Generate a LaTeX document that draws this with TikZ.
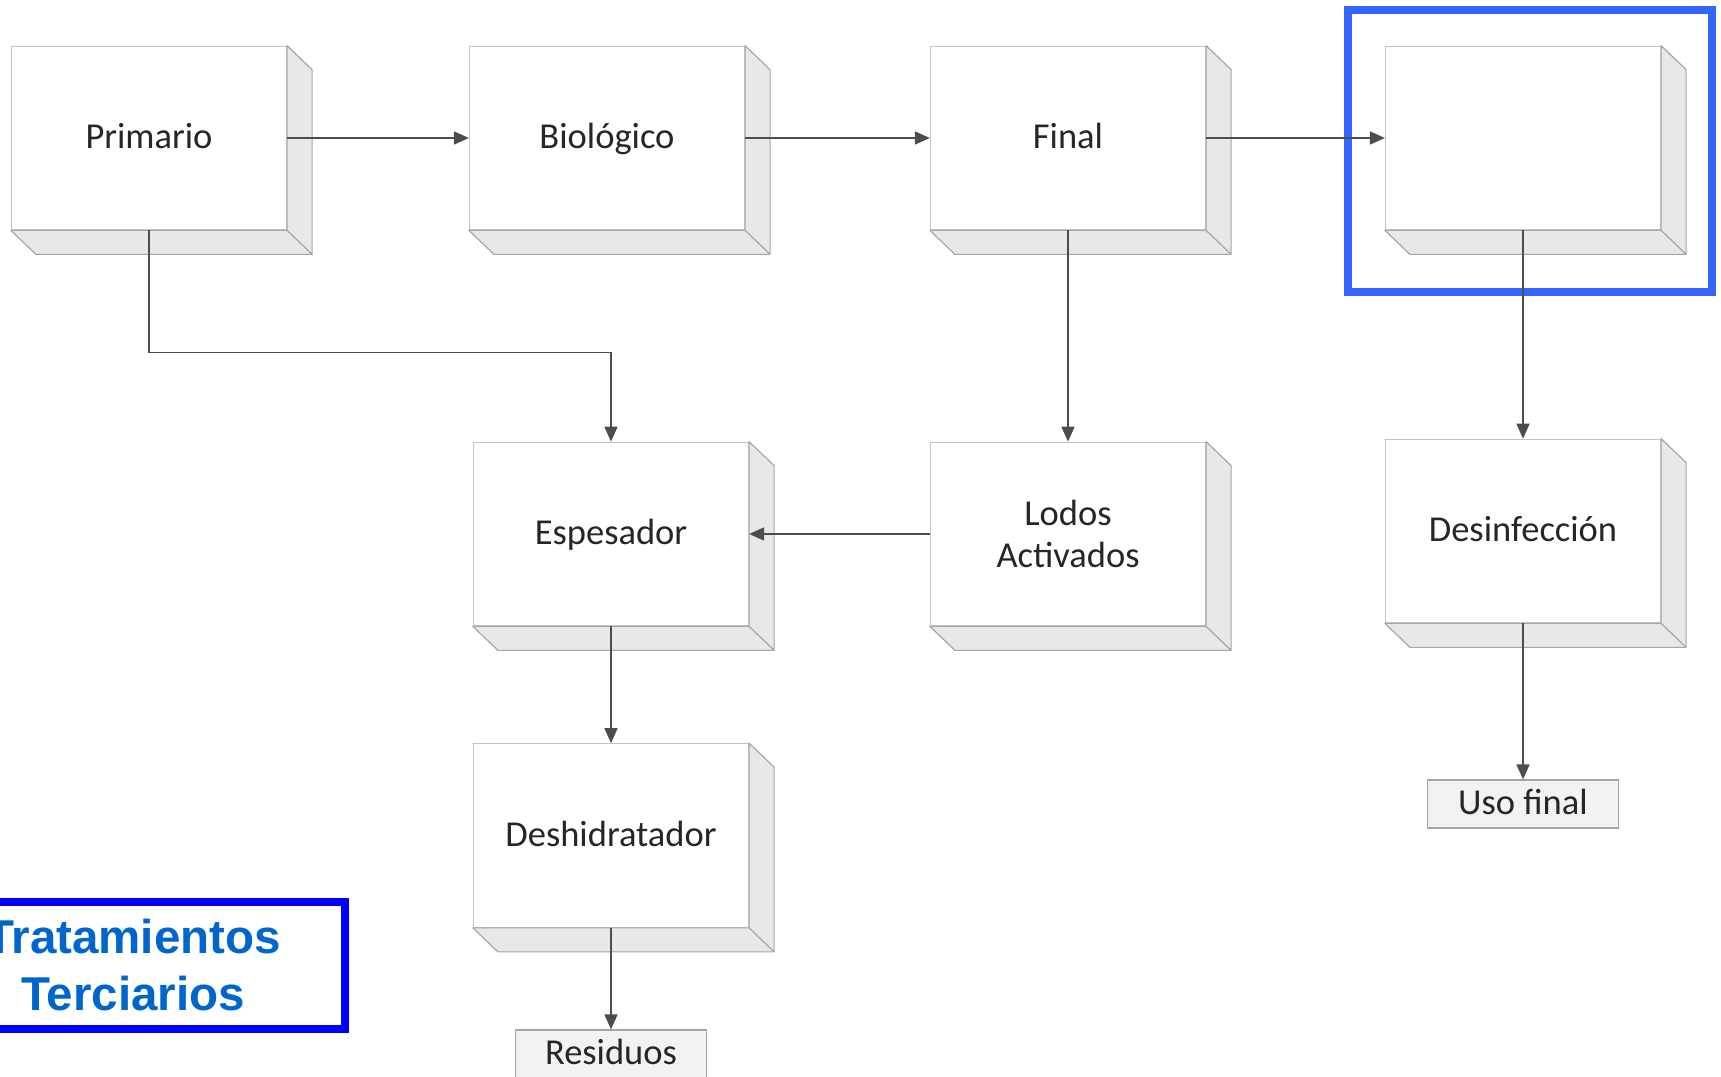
\documentclass[tikz,border=0pt]{standalone}
\usepackage{fontspec}
\setmainfont{Carlito}
\newfontfamily\arialfont{Liberation Sans}
\usetikzlibrary{arrows.meta}
\definecolor{boxedge}{HTML}{C4C4C4}
\definecolor{faceedge}{HTML}{A6A6A6}
\definecolor{facefill}{HTML}{E8E8E8}
\definecolor{flowline}{HTML}{4D4D4D}
\definecolor{markblue}{HTML}{3366FF}
\definecolor{titleblue}{HTML}{0066CC}
\tikzset{
	stage/.style={draw=boxedge, line width=1.2pt, fill=white, minimum width=275pt, minimum height=183.5pt,
		inner sep=0pt, align=center, text=black!85, font=\fontsize{36.5}{42}\selectfont},
	oneline/.style={text height=29pt, text depth=7.5pt},
	endbox/.style={draw=faceedge, line width=1.2pt, fill=black!5, minimum width=191pt, minimum height=48pt,
		inner sep=0pt, text=black!85, font=\fontsize{36.5}{42}\selectfont, oneline},
	face/.style={fill=facefill, draw=faceedge, line width=1.2pt, line join=round},
	flow/.style={draw=flowline, line width=1.6pt, -{Triangle[length=15pt,width=13pt]}}
}
\begin{document}
\begin{tikzpicture}[x=1pt, y=-1pt]
	\useasboundingbox (0,0) rectangle (1721,1076);
	
	% top row
	\node[stage, oneline] (prim) at (149,138) {Primario};
	\node[stage, oneline] (bio) at (607,138) {Biológico};
	\node[stage, oneline] (final) at (1068,138) {Final};
	\node[stage] (blank) at (1523,138) {};
	
	% middle row
	\node[stage, oneline] (esp) at (611,534) {Espesador};
	\node[stage] (lodos) at (1068,534) {Lodos\\Activados};
	\node[stage, oneline] (desinf) at (1523,531) {Desinfección};
	
	% bottom
	\node[stage, oneline] (desh) at (611,835.5) {Deshidratador};
	\node[endbox] (res) at (611,1054) {Residuos};
	\node[endbox] (uso) at (1523,804) {Uso final};
	
	% side and bottom faces
	\foreach \n in {prim,bio,final,blank,esp,lodos,desinf,desh}
	\filldraw[face] (\n.south east) -- (\n.north east) -- ++(25,24) |- ([shift={(25,24)}]\n.south west) -- (\n.south west) -- cycle
		(\n.south east) -- ++(25,24);
	
	% marks
	\draw[markblue, line width=8pt] (1348,10) rectangle (1712,292);
	\node[draw=blue, line width=8pt, minimum width=424pt, minimum height=127pt, inner sep=0pt, align=center,
		text=titleblue, font=\arialfont\bfseries\fontsize{47.5}{57}\selectfont] (title) at (133,965.5) {Tratamientos\\Terciarios};
	
	% flows
	\draw[flow] (prim.east) -- (bio.west);
	\draw[flow] (bio.east) -- (final.west);
	\draw[flow] (final.east) -- (blank.west);
	\draw[flow] (prim.south) -- ++(0,122) -| (esp.north);
	\draw[flow] (final.south) -- (lodos.north);
	\draw[flow] (blank.south) -- (desinf.north);
	\draw[flow] (lodos.west) -- (esp.east);
	\draw[flow] (esp.south) -- (desh.north);
	\draw[flow] (desh.south) -- (res.north);
	\draw[flow] (desinf.south) -- (uso.north);
\end{tikzpicture}
\end{document}
